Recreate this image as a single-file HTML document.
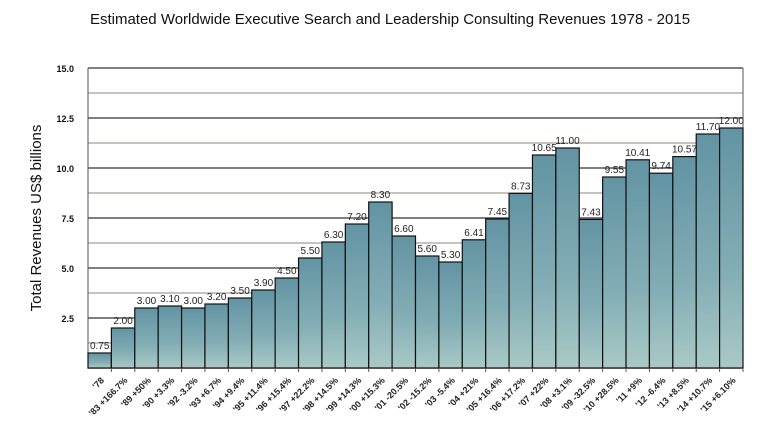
<!DOCTYPE html>
<html><head><meta charset="utf-8"><style>
body{margin:0;background:#fff;width:778px;height:441px;overflow:hidden}
</style></head><body>
<svg width="778" height="441" xmlns="http://www.w3.org/2000/svg" font-family="Liberation Sans, sans-serif">
<defs><linearGradient id="g" x1="0" y1="0" x2="0" y2="1"><stop offset="0" stop-color="#6394a3"/><stop offset="0.6" stop-color="#82adb5"/><stop offset="1" stop-color="#a9c9c6"/></linearGradient></defs>
<text x="390" y="24" text-anchor="middle" font-size="15" fill="#111">Estimated Worldwide Executive Search and Leadership Consulting Revenues  1978 - 2015</text>
<text transform="translate(41,218) rotate(-90)" text-anchor="middle" font-size="15" fill="#111">Total Revenues US$ billions</text>
<g id="grid"></g>
<g id="bars"></g>
<g id="labs"></g>
</svg>
<script>
const ns="http://www.w3.org/2000/svg";
function el(t,a,p,txt){const e=document.createElementNS(ns,t);for(const k in a)e.setAttribute(k,a[k]);if(txt!=null)e.textContent=txt;document.getElementById(p).appendChild(e);return e;}
const x0=88,x1=743,yb=368,s=20;
for(let i=1;i<=12;i++){const v=i*1.25,y=yb-v*s;const major=i%2==0;
el('line',{x1:x0,x2:x1,y1:y,y2:y,stroke:major?'#333':'#a89e90','stroke-width':major?1.3:1.2},'grid');
if(major)el('text',{x:74,y:y+4,'text-anchor':'end','font-size':9,'font-weight':'bold',fill:'#111'},'grid',v.toFixed(1));}
el('line',{x1:x1,x2:x1,y1:68,y2:yb,stroke:'#555'},'grid');
el('line',{x1:x0,x2:x0,y1:68,y2:yb,stroke:'#555'},'grid');
el('line',{x1:x0,x2:x1,y1:yb,y2:yb,stroke:'#777','stroke-width':1.5},'grid');
const vals=[0.75,2,3,3.1,3,3.2,3.5,3.9,4.5,5.5,6.3,7.2,8.3,6.6,5.6,5.3,6.41,7.45,8.73,10.65,11,7.43,9.55,10.41,9.74,10.57,11.7,12];
const txt=["0.75","2.00","3.00","3.10","3.00","3.20","3.50","3.90","4.50","5.50","6.30","7.20","8.30","6.60","5.60","5.30","6.41","7.45","8.73","10.65","11.00","7.43","9.55","10.41","9.74","10.57","11.70","12.00"];
const labs=["'78","'83 +166.7%","'89 +50%","'90 +3.3%","'92 -3.2%","'93 +6.7%","'94 +9.4%","'95 +11.4%","'96 +15.4%","'97 +22.2%","'98 +14.5%","'99 +14.3%","'00 +15.3%","'01 -20.5%","'02 -15.2%","'03 -5.4%","'04 +21%","'05 +16.4%","'06 +17.2%","'07 +22%","'08 +3.1%","'09 -32.5%","'10 +28.5%","'11 +9%","'12 -6.4%","'13 +8.5%","'14 +10.7%","'15 +6.10%"];
const w=(x1-x0)/28;
vals.forEach((v,i)=>{const x=x0+i*w,y=yb-v*s;
el('rect',{x:x,y:y,width:w,height:v*s,fill:'url(#g)',stroke:'#111','stroke-width':1.2},'bars');
el('text',{x:x+w/2,y:y-4,'text-anchor':'middle','font-size':10,fill:'#222'},'labs',txt[i]);
el('line',{x1:x+w,x2:x+w,y1:yb,y2:yb+4,stroke:'#555'},'labs');
const cx=x+w/2+5,cy=yb+13;
el('text',{x:cx,y:cy,'text-anchor':'end','font-size':9,'font-weight':'bold',fill:'#222',transform:`rotate(-45 ${cx} ${cy})`},'labs',labs[i]);
});
</script>
</body></html>
